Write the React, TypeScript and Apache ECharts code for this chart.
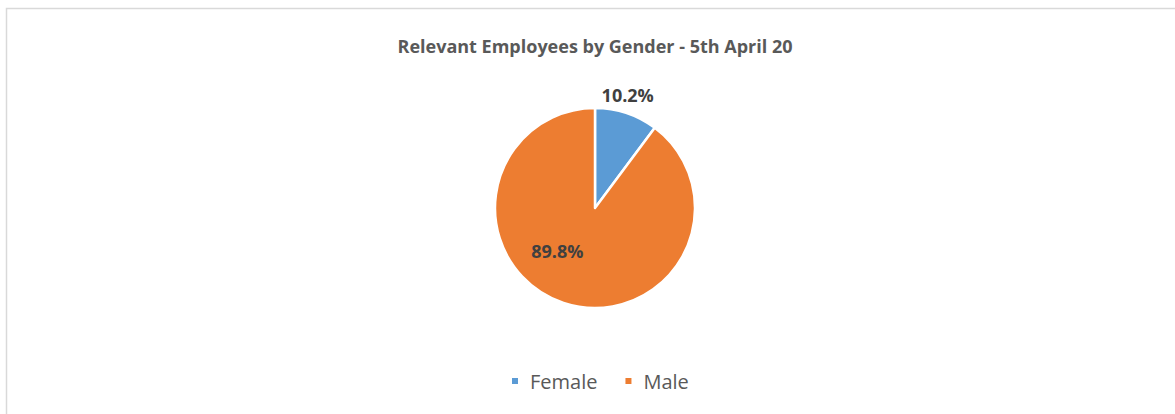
import React, { useEffect, useRef } from "react";
import * as echarts from "echarts";

const categories = ["Female", "Male"];
const values = [10.2, 89.8];
const colors = ["#5b9bd5", "#ed7d31"];
const titleText = "Relevant Employees by Gender - 5th April 20";

export default function App() {
  const ref = useRef<HTMLDivElement>(null);
  useEffect(() => {
    document.body.style.margin = "0";
    const chart = echarts.init(ref.current!, null, { renderer: "svg" });
    const font = "'Open Sans', sans-serif";
    chart.setOption({
      animation: false,
      backgroundColor: "#ffffff",
      title: {
        text: titleText,
        left: 590,
        textAlign: "center",
        top: 32,
        textStyle: { fontSize: 18, fontWeight: "bold", color: "#595959", fontFamily: font },
      },
      legend: {
        data: categories,
        top: 366,
        left: 505,
        icon: "rect",
        itemWidth: 8,
        itemHeight: 8,
        itemGap: 26,
        textStyle: { fontSize: 20, color: "#595959", fontFamily: font, padding: [0, 0, 0, 6] },
      },
      graphic: [
        {
          type: "rect",
          shape: { x: 6.5, y: 8.5, width: 1300, height: 600 },
          style: { fill: "none", stroke: "#d9d9d9", lineWidth: 1.5 },
          silent: true,
        },
      ],
      series: [
        {
          type: "pie",
          center: [595, 208],
          radius: [0, 100],
          startAngle: 90,
          clockwise: true,
          itemStyle: { borderColor: "#ffffff", borderWidth: 2.5 },
          label: {
            show: true,
            position: "inside",
            formatter: (p: any) => p.value.toFixed(1) + "%",
            fontSize: 18,
            fontWeight: "bold",
            color: "#404040",
            fontFamily: font,
          },
          labelLine: { show: false },
          labelLayout: (p: any) =>
            p.dataIndex === 0 ? { dx: 16, dy: -63 } : { dx: -21, dy: -7 },
          data: categories.map((c, i) => ({
            name: c,
            value: values[i],
            itemStyle: { color: colors[i] },
          })),
        },
      ],
    });
    return () => chart.dispose();
  }, []);
  return <div ref={ref} style={{ width: 1175, height: 414 }} />;
}
